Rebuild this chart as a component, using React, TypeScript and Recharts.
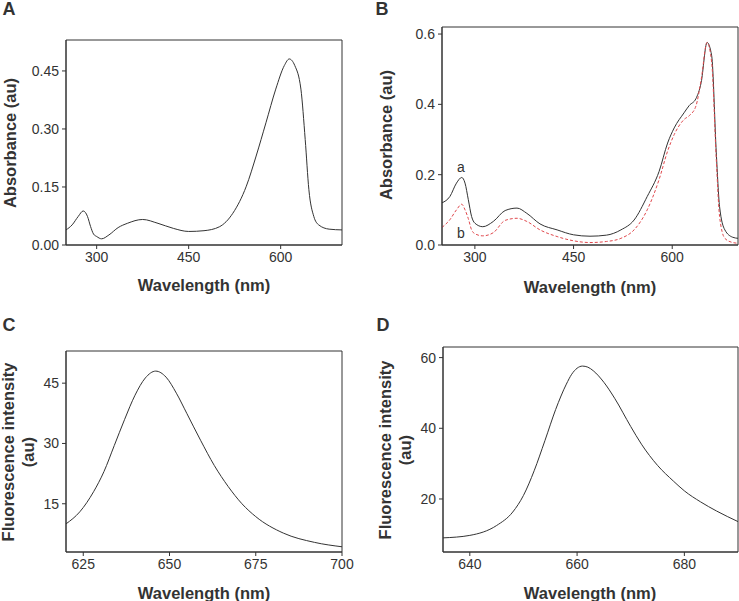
import React from "react";
import { LineChart, Line, XAxis, YAxis, ReferenceArea } from "recharts";

// panel A: absorbance spectrum
const aWave = [250, 260, 270, 278, 285, 290, 295, 300, 308, 320, 335, 350, 375, 400, 425, 450, 475, 500, 522, 544, 560, 576, 592, 606, 614, 623, 633, 640, 646, 654, 662, 679, 700];
const aAbs = [0.039, 0.052, 0.074, 0.088, 0.074, 0.048, 0.028, 0.022, 0.016, 0.026, 0.045, 0.056, 0.066, 0.056, 0.043, 0.035, 0.037, 0.047, 0.082, 0.152, 0.23, 0.316, 0.403, 0.464, 0.481, 0.464, 0.403, 0.273, 0.143, 0.074, 0.052, 0.041, 0.039];

// panel B: two absorbance spectra, a (solid) and b (dashed red)
const bWave = [250, 262, 272, 280, 285, 290, 295, 300, 312, 328, 346, 364, 379, 399, 425, 450, 475, 500, 522, 542, 562, 580, 593, 603, 618, 626, 636, 644, 653, 660, 667, 672, 680, 692, 700];
const bA = [0.12, 0.138, 0.176, 0.192, 0.176, 0.129, 0.081, 0.062, 0.052, 0.067, 0.098, 0.105, 0.09, 0.06, 0.043, 0.029, 0.025, 0.028, 0.043, 0.071, 0.138, 0.209, 0.29, 0.333, 0.376, 0.397, 0.416, 0.462, 0.576, 0.538, 0.262, 0.109, 0.043, 0.022, 0.019];
const bB = [0.05, 0.072, 0.1, 0.116, 0.1, 0.075, 0.043, 0.032, 0.026, 0.035, 0.07, 0.076, 0.067, 0.043, 0.024, 0.012, 0.007, 0.01, 0.019, 0.043, 0.1, 0.186, 0.267, 0.314, 0.357, 0.368, 0.395, 0.47, 0.576, 0.519, 0.243, 0.081, 0.019, 0.007, 0.005];

// panel C: fluorescence
const cWave = [620, 624, 628, 631, 634, 637, 640, 643, 646, 649, 652, 655, 659, 663, 667, 671, 675, 683, 692, 700];
const cInt = [10, 13, 18, 23, 29.5, 36, 42, 46.3, 48, 46.5, 42.5, 37.5, 30.8, 24.5, 19.3, 15, 11.8, 7.7, 5.4, 4.3];

// panel D: fluorescence
const dWave = [635, 640, 645, 648, 650, 652, 654, 656, 658, 659, 660, 661, 662, 663, 665, 667, 670, 672, 675, 678, 680, 683, 686, 690];
const dInt = [9, 9.7, 12.5, 16.3, 21, 28, 36.5, 45.3, 52.5, 55.3, 57, 57.6, 57.3, 56.3, 53, 48.5, 40.5, 35.5, 29.5, 25, 22.3, 19.2, 16.6, 13.6];

const aXTicks = [300, 450, 600];
const aYTicks = [0, 0.15, 0.3, 0.45];
const bYTicks = [0, 0.2, 0.4, 0.6];
const cXTicks = [625, 650, 675, 700];
const cYTicks = [15, 30, 45];
const dXTicks = [640, 660, 680];
const dYTicks = [20, 40, 60];

const INK = "#333";
const FONT = "'Liberation Sans', Arial, sans-serif";

type Series = { key: string; color: string; dash?: string };

function Panel(props: {
  left: number; top: number; width: number; height: number;
  margin: { top: number; right: number; bottom: number; left: number };
  data: any[]; series: Series[];
  xDomain: [number, number]; xTicks: number[];
  yDomain: [number, number]; yTicks: number[];
  yFmt: (v: number) => string;
}) {
  const { xDomain, yDomain, yFmt } = props;
  const xTick = (p: any) => (
    <text x={p.x} y={p.y} dy="0.71em" textAnchor="middle" fontSize={14} fill={INK} fontFamily={FONT}>
      {p.payload.value}
    </text>
  );
  const yTick = (p: any) => (
    <text x={p.x} y={p.y} dy="0.35em" textAnchor="end" fontSize={14} fill={INK} fontFamily={FONT}>
      {yFmt(p.payload.value)}
    </text>
  );
  return (
    <div style={{ position: "absolute", left: props.left, top: props.top }}>
      <LineChart width={props.width} height={props.height} data={props.data} margin={props.margin}>
        <XAxis dataKey="x" type="number" domain={xDomain} ticks={props.xTicks} allowDataOverflow
          height={30} tickSize={4} tickMargin={3} tick={xTick} stroke={INK} />
        <YAxis type="number" domain={yDomain} ticks={props.yTicks} allowDataOverflow
          width={60} tickSize={4} tickMargin={3} tick={yTick} stroke={INK} />
        <ReferenceArea x1={xDomain[0]} x2={xDomain[1]} y1={yDomain[0]} y2={yDomain[1]}
          fill="none" fillOpacity={0} stroke={INK} strokeWidth={1} />
        {props.series.map((s) => (
          <Line key={s.key} type="monotone" dataKey={s.key} stroke={s.color} strokeWidth={1}
            strokeDasharray={s.dash} dot={false} activeDot={false} isAnimationActive={false} />
        ))}
      </LineChart>
    </div>
  );
}

const txt = (x: number, y: number, s: React.ReactNode, extra: React.CSSProperties = {}) => (
  <div style={{ position: "absolute", left: x, top: y, transform: "translate(-50%,-50%)", whiteSpace: "nowrap", ...extra }}>{s}</div>
);

const vtxt = (x: number, y: number, s: React.ReactNode, extra: React.CSSProperties = {}) => (
  <div style={{ position: "absolute", left: x, top: y, transform: "translate(-50%,-50%) rotate(-90deg)", whiteSpace: "nowrap", ...extra }}>{s}</div>
);

export default function App() {
  const dataA = aWave.map((x, i) => ({ x, y: aAbs[i] }));
  const dataB = bWave.map((x, i) => ({ x, a: bA[i], b: bB[i] }));
  const dataC = cWave.map((x, i) => ({ x, y: cInt[i] }));
  const dataD = dWave.map((x, i) => ({ x, y: dInt[i] }));

  const title: React.CSSProperties = { fontSize: 16.5, fontWeight: 700, color: INK, lineHeight: "20px" };
  const letter: React.CSSProperties = { fontSize: 18, fontWeight: 700, color: INK };

  return (
    <div style={{ position: "absolute", left: 0, top: 0, width: 739, height: 601, background: "#fff", fontFamily: FONT, overflow: "hidden" }}>
      <Panel left={0} top={0} width={370} height={300}
        margin={{ top: 40, right: 28, bottom: 25, left: 6 }}
        data={dataA} series={[{ key: "y", color: INK }]}
        xDomain={[250, 700]} xTicks={aXTicks} yDomain={[0, 0.53]} yTicks={aYTicks}
        yFmt={(v) => v.toFixed(2)} />
      <Panel left={370} top={0} width={369} height={300}
        margin={{ top: 27, right: 1, bottom: 25, left: 12 }}
        data={dataB} series={[{ key: "a", color: INK }, { key: "b", color: "#e0474c", dash: "3 2" }]}
        xDomain={[250, 700]} xTicks={aXTicks} yDomain={[0, 0.62]} yTicks={bYTicks}
        yFmt={(v) => v.toFixed(1)} />
      <Panel left={0} top={300} width={370} height={301}
        margin={{ top: 51, right: 28, bottom: 19, left: 6 }}
        data={dataC} series={[{ key: "y", color: INK }]}
        xDomain={[620, 700]} xTicks={cXTicks} yDomain={[3, 53]} yTicks={cYTicks}
        yFmt={(v) => String(v)} />
      <Panel left={370} top={300} width={369} height={301}
        margin={{ top: 47, right: 1, bottom: 19, left: 13 }}
        data={dataD} series={[{ key: "y", color: INK }]}
        xDomain={[635, 690]} xTicks={dXTicks} yDomain={[5, 63]} yTicks={dYTicks}
        yFmt={(v) => String(v)} />

      {txt(9, 9, "A", letter)}
      {txt(382, 9, "B", letter)}
      {txt(9, 325, "C", letter)}
      {txt(383, 325, "D", letter)}

      {vtxt(10, 143, "Absorbance (au)", title)}
      {txt(204, 285, "Wavelength (nm)", title)}
      {vtxt(386, 135, "Absorbance (au)", title)}
      {txt(590, 287, "Wavelength (nm)", title)}
      {vtxt(18, 452, <div style={{ textAlign: "center" }}>Fluorescence intensity<br />(au)</div>, title)}
      {txt(204, 593, "Wavelength (nm)", title)}
      {vtxt(395, 450, <div style={{ textAlign: "center" }}>Fluorescence intensity<br />(au)</div>, title)}
      {txt(590, 593, "Wavelength (nm)", title)}

      {txt(461, 167, "a", { fontSize: 14, color: INK })}
      {txt(461, 233, "b", { fontSize: 14, color: INK })}
    </div>
  );
}
